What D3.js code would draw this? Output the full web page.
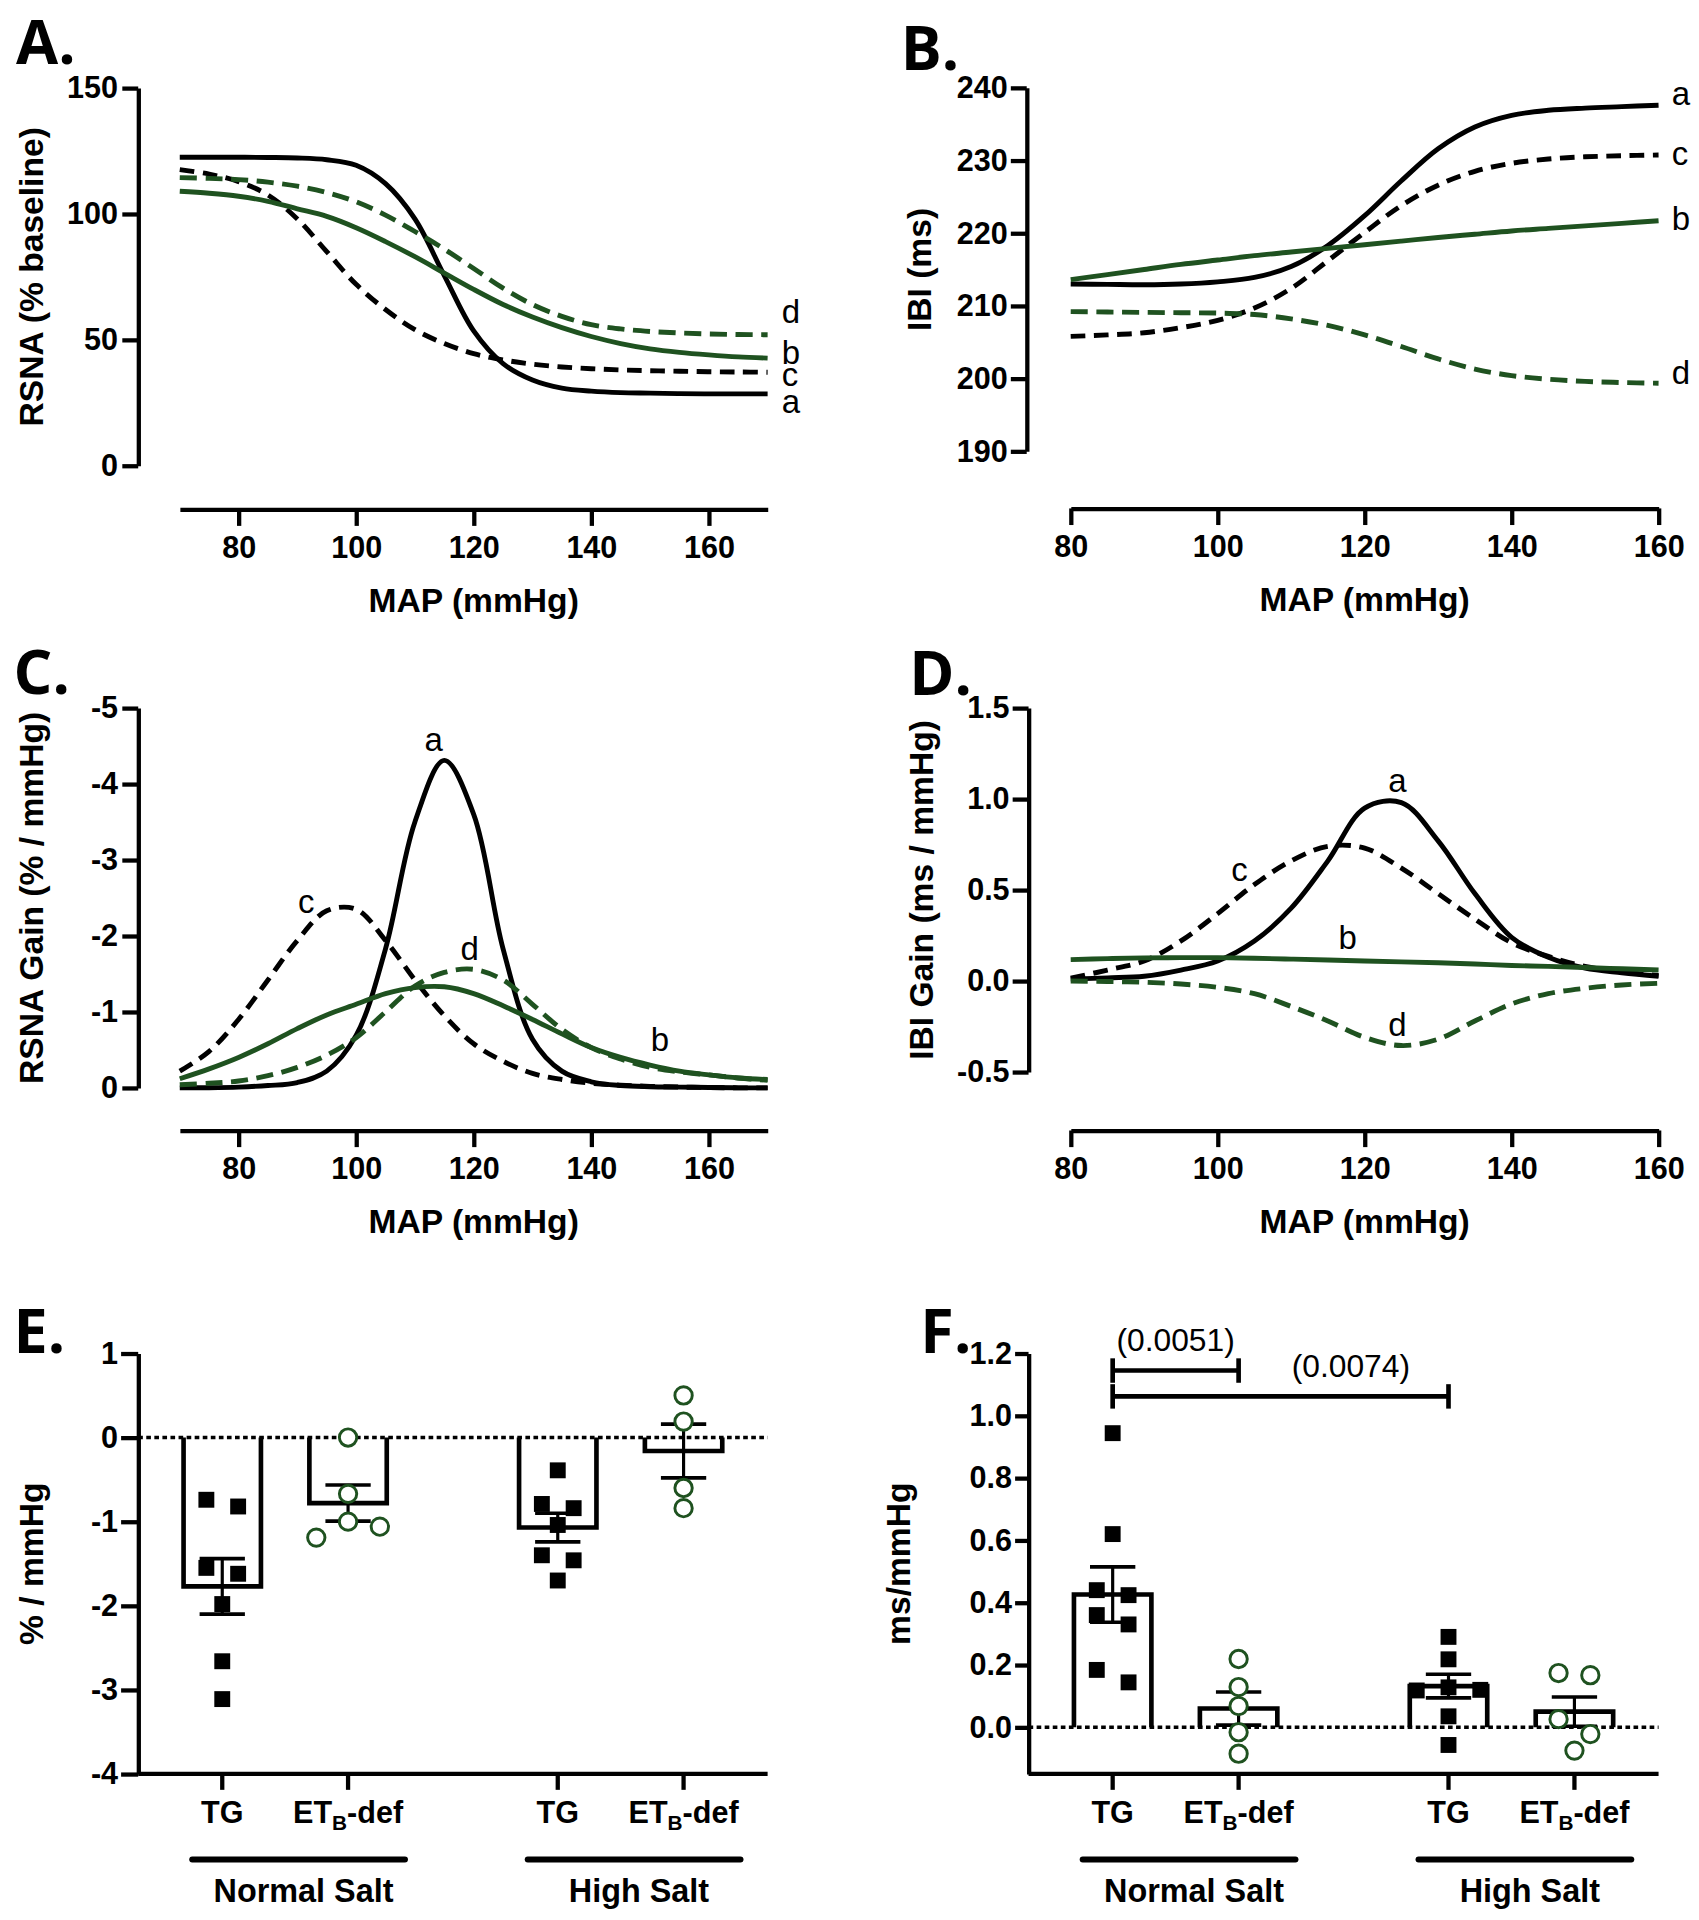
<!DOCTYPE html>
<html>
<head>
<meta charset="utf-8">
<title>Baroreflex curves and gains</title>
<script src="https://cdn.jsdelivr.net/npm/d3@7"></script>
<style>
  body { margin: 0; background: #fff; }
  svg { display: block; background: #fff; }
  text { font-family: "Liberation Sans", Arial, Helvetica, sans-serif; fill: #000; }
</style>
</head>
<body>
<div id="fig"></div>
<script>
// ---- values --------------------------------------------------------------

var curveIds = ["a", "b", "c", "d"];

// panels A and C share this MAP grid (mmHg)
var mapWide = [70, 75, 80, 85, 90, 95, 100, 105, 110, 115, 120, 125, 130, 135, 140, 145, 150, 155, 160, 165, 170];
// panels B and D
var mapNarrow = [80, 85, 90, 95, 100, 105, 110, 115, 120, 125, 130, 135, 140, 145, 150, 155, 160];

// A. RSNA (% baseline)
var rsna_a = [122.5, 122.5, 122.5, 122.4, 122.2, 121.5, 119.3, 112, 98, 75.5, 53.5, 40.5, 34, 30.8, 29.6, 29.0, 28.8, 28.6, 28.5, 28.5, 28.5];
var rsna_b = [109, 108.2, 107, 105, 102, 99, 94.5, 89, 83, 76.5, 70, 64, 59, 54.8, 51.3, 48.5, 46.4, 45, 44, 43.2, 42.7];
var rsna_c = [117.6, 115.8, 112.8, 107.5, 98, 85, 72, 62, 54, 48.5, 44.5, 42, 40.3, 39.2, 38.5, 38, 37.7, 37.5, 37.3, 37.2, 37.1];
var rsna_d = [114.4, 114.1, 113.6, 112.6, 111, 108.5, 104.8, 99.5, 93, 86, 78.3, 70.5, 64, 59.3, 56, 54.3, 53.3, 52.7, 52.3, 52.1, 52];

// B. IBI (ms)
var ibi_a = [213.0, 212.95, 212.9, 213.0, 213.3, 213.9, 215.4, 218.3, 222.4, 227.2, 231.6, 234.6, 236.2, 236.9, 237.2, 237.4, 237.6];
var ibi_b = [213.6, 214.3, 215.0, 215.7, 216.3, 216.9, 217.4, 217.9, 218.4, 218.9, 219.4, 219.85, 220.3, 220.65, 221.0, 221.35, 221.7];
var ibi_c = [205.8, 206.0, 206.3, 207.0, 208.0, 209.7, 212.4, 216.2, 220.1, 223.8, 226.6, 228.5, 229.6, 230.2, 230.5, 230.65, 230.75];
var ibi_d = [209.2, 209.15, 209.1, 209.05, 209.0, 208.8, 208.2, 207.3, 206.0, 204.4, 202.7, 201.3, 200.4, 199.9, 199.6, 199.45, 199.35];

// C. RSNA gain (% / mmHg)
var rsnaGain_a = [0, -0.002, -0.01, -0.03, -0.07, -0.22, -0.69, -1.83, -3.5, -4.31, -3.6, -1.83, -0.64, -0.22, -0.08, -0.03, -0.015, -0.01, -0.005, 0, 0];
var rsnaGain_b = [-0.12, -0.25, -0.4, -0.58, -0.78, -0.96, -1.1, -1.24, -1.32, -1.33, -1.24, -1.08, -0.9, -0.71, -0.53, -0.4, -0.3, -0.22, -0.17, -0.13, -0.11];
var rsnaGain_c = [-0.22, -0.48, -0.9, -1.42, -1.94, -2.33, -2.35, -1.94, -1.42, -0.95, -0.58, -0.35, -0.19, -0.11, -0.06, -0.035, -0.02, -0.01, -0.005, 0, 0];
var rsnaGain_d = [-0.04, -0.06, -0.09, -0.16, -0.27, -0.43, -0.66, -1.0, -1.34, -1.52, -1.56, -1.42, -1.1, -0.77, -0.53, -0.38, -0.27, -0.21, -0.17, -0.13, -0.1];

// D. IBI gain (ms / mmHg)
var ibiGain_a = [0.01, 0.017, 0.026, 0.06, 0.11, 0.22, 0.4, 0.66, 0.95, 0.98, 0.77, 0.48, 0.24, 0.13, 0.07, 0.045, 0.026];
var ibiGain_b = [0.117, 0.123, 0.127, 0.128, 0.128, 0.125, 0.12, 0.115, 0.11, 0.105, 0.1, 0.093, 0.085, 0.08, 0.074, 0.067, 0.06];
var ibiGain_c = [0.015, 0.06, 0.11, 0.22, 0.37, 0.53, 0.66, 0.74, 0.73, 0.62, 0.48, 0.34, 0.21, 0.135, 0.08, 0.05, 0.03];
var ibiGain_d = [0, -0.003, -0.007, -0.017, -0.035, -0.07, -0.14, -0.22, -0.31, -0.355, -0.32, -0.22, -0.126, -0.07, -0.04, -0.022, -0.013];

// bar panels, order: Normal-TG, Normal-ETB, High-TG, High-ETB
var saltGroups = ["Normal Salt", "High Salt"];
var genotypes = ["TG", "ETB-def"];

// E. RSNA gain (% / mmHg)
var rsnaGainMean = [-1.77, -0.78, -1.07, -0.16];
var rsnaGainSem = [0.33, 0.215, 0.17, 0.32];
var rsnaGainPts = [
  [-0.74, -0.82, -1.55, -1.62, -1.98, -2.66, -3.11],
  [0.0, -0.67, -1.0, -1.06, -1.19],
  [-0.39, -0.79, -0.84, -1.04, -1.4, -1.46, -1.7],
  [0.5, 0.19, -0.6, -0.84]
];

// F. IBI gain (ms / mmHg)
var ibiGainMean = [0.426, 0.06, 0.132, 0.05];
var ibiGainSem = [0.089, 0.053, 0.038, 0.047];
var ibiGainPts = [
  [0.944, 0.62, 0.44, 0.424, 0.36, 0.33, 0.184, 0.144],
  [0.219, 0.129, 0.068, -0.016, -0.085],
  [0.29, 0.218, 0.128, 0.12, 0.118, 0.035, -0.057],
  [0.174, 0.167, 0.026, -0.022, -0.075]
];
var ibiGainTests = [
  { from: 0, to: 1, at: 1.145, p: "(0.0051)", between: [0, 1] },
  { from: 0, to: 2, at: 1.062, p: "(0.0074)", between: [1, 2] }
];

// curve letter positions (data units: MAP, value of text baseline)
var labA = { a: [172.4, 21.1], b: [172.4, 40.4], c: [172.4, 31.8], d: [172.4, 56.7] };
var labB = { a: [161.8, 237.6], b: [161.8, 220.5], c: [161.8, 229.4], d: [161.8, 199.3] };
var labC = { a: [113.2, -4.44], b: [151.7, -0.48], c: [91.5, -2.30], d: [119.3, -1.68] };
var labD = { a: [124.45, 1.037], b: [117.7, 0.178], c: [102.97, 0.548], d: [124.45, -0.30] };

// ---- drawing ---------------------------------------------------------------

var green = "#1f5220";
var style = {
  a: { color: "#000", dash: null },
  b: { color: green, dash: null },
  c: { color: "#000", dash: "12,7" },
  d: { color: green, dash: "14,7" }
};

var svg = d3.select("#fig").append("svg")
  .attr("width", 1699).attr("height", 1920)
  .attr("viewBox", "0 0 1390 1571");

function styleAxis(sel) {
  sel.select(".domain").attr("stroke", "#000").attr("stroke-width", 3.5);
  sel.selectAll(".tick line").attr("stroke", "#000").attr("stroke-width", 3.5);
  sel.selectAll(".tick text")
    .attr("fill", "#000")
    .style("font-size", "25px")
    .style("font-weight", "bold");
}

function panelLetter(txt, x, y) {
  svg.append("text").attr("x", x).attr("y", y)
    .style("font-family", "'Open Sans', 'Noto Sans', sans-serif")
    .style("font-weight", "bold").style("font-size", "50px")
    .text(txt);
}

function yTitle(txt, x, yc) {
  svg.append("text")
    .attr("transform", "translate(" + x + "," + yc + ") rotate(-90)")
    .attr("text-anchor", "middle")
    .style("font-weight", "bold").style("font-size", "27.5px")
    .text(txt);
}

function curvePanel(p) {
  var g = svg.append("g");
  var x = d3.scaleLinear().domain(p.xDom).range([p.x0, p.x1]);
  var y = d3.scaleLinear().domain(p.yDom).range([p.yBot, p.yTop]);

  var ax = g.append("g").attr("transform", "translate(0," + p.xAxisY + ")")
    .call(d3.axisBottom(x).tickValues(p.xTicks).tickSize(13.6).tickSizeOuter(0).tickPadding(8.6));
  var ay = g.append("g").attr("transform", "translate(" + p.yAxisX + ",0)")
    .call(d3.axisLeft(y).tickValues(p.yTicks).tickFormat(p.fmt).tickSize(13).tickSizeOuter(0).tickPadding(p.pad));
  styleAxis(ax);
  styleAxis(ay);

  var line = d3.line()
    .x(function (d) { return x(d[0]); })
    .y(function (d) { return y(d[1]); })
    .curve(d3.curveCatmullRom.alpha(0.5));

  ["a", "c", "b", "d"].forEach(function (id) {
    var pts = p.map.map(function (m, i) { return [m, p.series[id][i]]; });
    g.append("path").datum(pts)
      .attr("d", line)
      .attr("fill", "none")
      .attr("stroke", style[id].color)
      .attr("stroke-width", 4)
      .attr("stroke-dasharray", style[id].dash);
  });

  g.selectAll("text.curve-lab").data(curveIds).enter().append("text")
    .attr("class", "curve-lab")
    .attr("x", function (id) { return x(p.labels[id][0]); })
    .attr("y", function (id) { return y(p.labels[id][1]); })
    .attr("text-anchor", p.anchor)
    .style("font-size", "27px")
    .text(function (id) { return id; });

  g.append("text")
    .attr("x", (p.x0 + p.x1) / 2).attr("y", p.xAxisY + 83.7)
    .attr("text-anchor", "middle")
    .style("font-weight", "bold").style("font-size", "27.5px")
    .text("MAP (mmHg)");

  yTitle(p.yLabel, p.yAxisX - 78, (p.yTop + p.yBot) / 2);
  panelLetter(p.letter[0], p.letter[1], p.letter[2]);
}

// simple swarm: points closer than `size` in y share a row, rows are centred
function swarm(vals, y, size, spacing) {
  var pts = vals.map(function (v) { return { v: v }; })
    .sort(function (a, b) { return b.v - a.v; });
  var rows = [], cur = null;
  pts.forEach(function (pt) {
    if (cur && Math.abs(y(pt.v) - y(cur[0].v)) < size) cur.push(pt);
    else { cur = [pt]; rows.push(cur); }
  });
  rows.forEach(function (r) {
    var n = r.length;
    r.forEach(function (pt, i) {
      var side = i % 2 ? 1 : -1;
      if (n % 2) pt.dx = i === 0 ? 0 : side * Math.ceil(i / 2) * spacing;
      else pt.dx = side * (Math.floor(i / 2) + 0.5) * spacing;
    });
  });
  return pts;
}

function barPanel(p) {
  var g = svg.append("g");
  var outer = d3.scaleBand().domain(saltGroups).range([p.x0, p.x1])
    .paddingInner(0.25).paddingOuter(0.063);
  var inner = d3.scaleBand().domain(genotypes).range([0, outer.bandwidth()]);
  var y = d3.scaleLinear().domain(p.yDom).range([p.yBot, p.yTop]);
  var cells = d3.cross(saltGroups, genotypes);
  function cx(i) { return outer(cells[i][0]) + inner(cells[i][1]) + inner.bandwidth() / 2; }
  var bw = inner.bandwidth() * 0.615;
  var capW = inner.bandwidth() * 0.36;

  var ay = g.append("g").attr("transform", "translate(" + p.x0 + ",0)")
    .call(d3.axisLeft(y).tickValues(p.yTicks).tickFormat(p.fmt)
      .tickSize(p.tick).tickSizeOuter(0).tickPadding(2.5));
  styleAxis(ay);

  // x axis line + category ticks
  g.append("line")
    .attr("x1", p.x0).attr("x2", p.x1).attr("y1", p.yBot).attr("y2", p.yBot)
    .attr("stroke", "#000").attr("stroke-width", 3.5);
  g.selectAll("line.xtick").data(cells).enter().append("line")
    .attr("class", "xtick")
    .attr("x1", function (d, i) { return cx(i); }).attr("x2", function (d, i) { return cx(i); })
    .attr("y1", p.yBot).attr("y2", p.yBot + 13)
    .attr("stroke", "#000").attr("stroke-width", 3.5);
  var xl = g.selectAll("text.xlab").data(cells).enter().append("text")
    .attr("class", "xlab")
    .attr("x", function (d, i) { return cx(i); })
    .attr("y", p.yBot + 40)
    .attr("text-anchor", "middle")
    .style("font-weight", "bold").style("font-size", "25px");
  xl.each(function (d) {
    var t = d3.select(this);
    if (d[1] === "TG") { t.text("TG"); return; }
    t.append("tspan").text("ET");
    t.append("tspan").attr("dy", 6).style("font-size", "17px").text("B");
    t.append("tspan").attr("dy", -6).text("-def");
  });

  // salt group underline + names
  saltGroups.forEach(function (s) {
    var c = outer(s) + outer.bandwidth() / 2 + 11;
    g.append("line")
      .attr("x1", c - 87).attr("x2", c + 87)
      .attr("y1", p.yBot + 70).attr("y2", p.yBot + 70)
      .attr("stroke", "#000").attr("stroke-width", 5).attr("stroke-linecap", "round");
    g.append("text")
      .attr("x", c + 4).attr("y", p.yBot + 105)
      .attr("text-anchor", "middle")
      .style("font-weight", "bold").style("font-size", "26.5px")
      .text(s);
  });

  // zero reference
  g.append("line")
    .attr("x1", p.x0).attr("x2", p.x1).attr("y1", y(0)).attr("y2", y(0))
    .attr("stroke", "#000").attr("stroke-width", 2.8).attr("stroke-dasharray", "3.8,2.8");

  // bars (open at the baseline)
  g.selectAll("path.bar").data(p.mean).enter().append("path")
    .attr("class", "bar")
    .attr("d", function (m, i) {
      return "M" + (cx(i) - bw / 2) + "," + y(0) + "V" + y(m) + "H" + (cx(i) + bw / 2) + "V" + y(0);
    })
    .attr("fill", "none").attr("stroke", "#000").attr("stroke-width", 3.8);

  // error bars (mean +/- SEM)
  p.mean.forEach(function (m, i) {
    var lo = y(m - p.sem[i]), hi = y(m + p.sem[i]);
    g.append("line").attr("x1", cx(i)).attr("x2", cx(i)).attr("y1", lo).attr("y2", hi)
      .attr("stroke", "#000").attr("stroke-width", 2.6);
    [lo, hi].forEach(function (yy) {
      g.append("line").attr("x1", cx(i) - capW / 2).attr("x2", cx(i) + capW / 2)
        .attr("y1", yy).attr("y2", yy)
        .attr("stroke", "#000").attr("stroke-width", 3);
    });
  });

  // individual animals
  p.pts.forEach(function (vals, i) {
    var tg = cells[i][1] === "TG";
    var pts = swarm(vals, y, tg ? 13 : 14.5, 26);
    if (tg) {
      g.selectAll(null).data(pts).enter().append("rect")
        .attr("x", function (d) { return cx(i) + d.dx - 6.5; })
        .attr("y", function (d) { return y(d.v) - 6.5; })
        .attr("width", 13).attr("height", 13)
        .attr("fill", "#000");
    } else {
      g.selectAll(null).data(pts).enter().append("circle")
        .attr("cx", function (d) { return cx(i) + d.dx; })
        .attr("cy", function (d) { return y(d.v); })
        .attr("r", 7.1)
        .attr("fill", "#fff").attr("stroke", green).attr("stroke-width", 2.4);
    }
  });

  // comparisons
  (p.tests || []).forEach(function (t) {
    var yy = y(t.at), x1 = cx(t.from), x2 = cx(t.to);
    g.append("line").attr("x1", x1).attr("x2", x2).attr("y1", yy).attr("y2", yy)
      .attr("stroke", "#000").attr("stroke-width", 3.8);
    [x1, x2].forEach(function (xx) {
      g.append("line").attr("x1", xx).attr("x2", xx).attr("y1", yy - 10).attr("y2", yy + 10)
        .attr("stroke", "#000").attr("stroke-width", 3.8);
    });
    g.append("text")
      .attr("x", (cx(t.between[0]) + cx(t.between[1])) / 2 + (t.between[0] === t.from ? 0 : 6))
      .attr("y", yy - 16)
      .attr("text-anchor", "middle")
      .style("font-size", "26px")
      .text(t.p);
  });

  yTitle(p.yLabel, p.x0 - p.titleOff, (p.yTop + p.yBot) / 2);
  panelLetter(p.letter[0], p.letter[1], p.letter[2]);
}

var plain = function (d) { return String(d); };
var oneDec = function (d) { return d.toFixed(1); };

curvePanel({
  letter: ["A.", 13, 52],
  x0: 147, x1: 628, xAxisY: 416.7, xDom: [70, 170], xTicks: [80, 100, 120, 140, 160],
  yAxisX: 113, yTop: 72, yBot: 381, yDom: [0, 150], yTicks: [0, 50, 100, 150],
  fmt: plain, pad: 3.5,
  map: mapWide, series: { a: rsna_a, b: rsna_b, c: rsna_c, d: rsna_d },
  labels: labA, anchor: "start", yLabel: "RSNA (% baseline)"
});

curvePanel({
  letter: ["B.", 737, 57],
  x0: 876, x1: 1357, xAxisY: 416, xDom: [80, 160], xTicks: [80, 100, 120, 140, 160],
  yAxisX: 840, yTop: 71.8, yBot: 369.2, yDom: [190, 240], yTicks: [190, 200, 210, 220, 230, 240],
  fmt: plain, pad: 2.5,
  map: mapNarrow, series: { a: ibi_a, b: ibi_b, c: ibi_c, d: ibi_d },
  labels: labB, anchor: "start", yLabel: "IBI (ms)"
});

curvePanel({
  letter: ["C.", 11, 567.5],
  x0: 147, x1: 628, xAxisY: 925, xDom: [70, 170], xTicks: [80, 100, 120, 140, 160],
  yAxisX: 113, yTop: 579.3, yBot: 890.1, yDom: [0, -5], yTicks: [0, -1, -2, -3, -4, -5],
  fmt: plain, pad: 3.5,
  map: mapWide, series: { a: rsnaGain_a, b: rsnaGain_b, c: rsnaGain_c, d: rsnaGain_d },
  labels: labC, anchor: "middle", yLabel: "RSNA Gain (% / mmHg)"
});

curvePanel({
  letter: ["D.", 744, 569],
  x0: 876, x1: 1357, xAxisY: 925, xDom: [80, 160], xTicks: [80, 100, 120, 140, 160],
  yAxisX: 841.5, yTop: 579.3, yBot: 877.1, yDom: [-0.5, 1.5], yTicks: [-0.5, 0, 0.5, 1.0, 1.5],
  fmt: oneDec, pad: 2.5,
  map: mapNarrow, series: { a: ibiGain_a, b: ibiGain_b, c: ibiGain_c, d: ibiGain_d },
  labels: labD, anchor: "middle", yLabel: "IBI Gain (ms / mmHg)"
});

barPanel({
  letter: ["E.", 11, 1107.4],
  x0: 113, x1: 628, yTop: 1107.4, yBot: 1451.5, yDom: [-4, 1], yTicks: [-4, -3, -2, -1, 0, 1],
  fmt: plain, tick: 14, titleOff: 77.6,
  mean: rsnaGainMean, sem: rsnaGainSem, pts: rsnaGainPts,
  yLabel: "% / mmHg"
});

barPanel({
  letter: ["F.", 753, 1107.4],
  x0: 841.5, x1: 1357, yTop: 1107.4, yBot: 1451.5, yDom: [-0.15, 1.2],
  yTicks: [0, 0.2, 0.4, 0.6, 0.8, 1.0, 1.2],
  fmt: oneDec, tick: 11, titleOff: 97,
  mean: ibiGainMean, sem: ibiGainSem, pts: ibiGainPts, tests: ibiGainTests,
  yLabel: "ms/mmHg"
});
</script>
</body>
</html>
